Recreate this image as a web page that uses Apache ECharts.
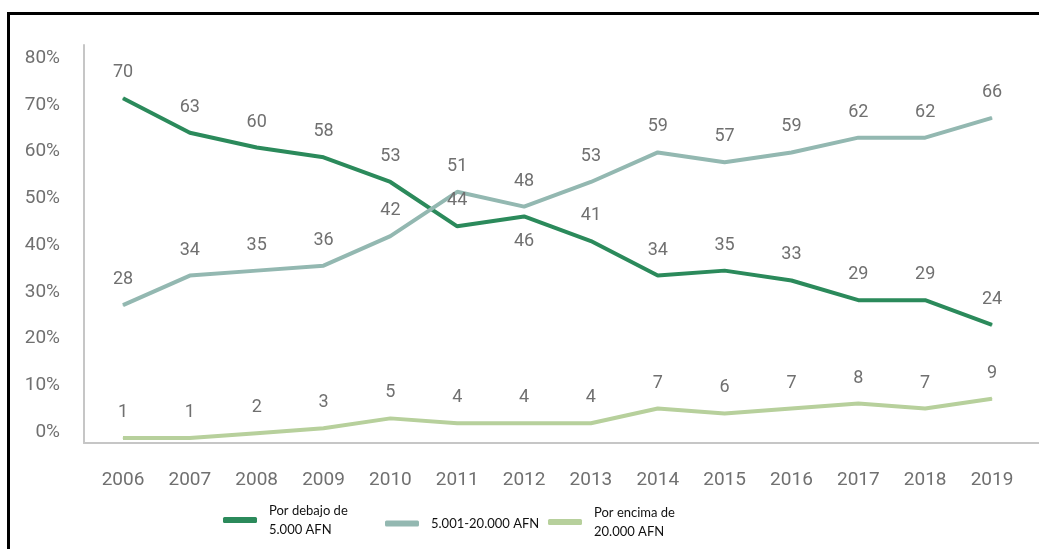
<!DOCTYPE html>
<html>
<head>
<meta charset="utf-8">
<title>AFN</title>
<script src="https://cdn.jsdelivr.net/npm/echarts@6/dist/echarts.min.js"></script>
<style>
  html, body { margin: 0; padding: 0; background: #fff; }
  #wrap { position: absolute; left: 0; top: 0; width: 1039px; height: 549px; }
  #frame { position: absolute; left: 7px; top: 12px; width: 1040px; height: 545px;
           border-left: 3px solid #000; border-top: 3px solid #000; }
  #chart { position: absolute; left: 0; top: 0; width: 1039px; height: 549px; }
</style>
</head>
<body>
<div id="wrap">
  <div id="frame"></div>
  <div id="chart"></div>
</div>
<script>
// categorias y valores
var years = ["2006", "2007", "2008", "2009", "2010", "2011", "2012", "2013", "2014", "2015", "2016", "2017", "2018", "2019"];
var bajo = [70, 63, 60, 58, 53, 44, 46, 41, 34, 35, 33, 29, 29, 24];
var medio = [28, 34, 35, 36, 42, 51, 48, 53, 59, 57, 59, 62, 62, 66];
var alto = [1, 1, 2, 3, 5, 4, 4, 4, 7, 6, 7, 8, 7, 9];
var yTicks = [0, 10, 20, 30, 40, 50, 60, 70, 80];
var names = ["Por debajo de\n5.000 AFN", "5.001-20.000 AFN", "Por encima de\n20.000 AFN"];

var bajoLabelBelow = ["2012"]; // etiquetas que van debajo del punto

var numFont = "Roboto, 'DejaVu Sans', sans-serif";
var colors = ["#2b8a5b", "#93b8b1", "#b7d09c"];

function withLabels(values, below) {
  return values.map(function (v, i) {
    if (below && below.indexOf(years[i]) >= 0) {
      return { value: v, label: { position: "bottom", distance: 16 } };
    }
    return v;
  });
}

function legendAt(idx, left, top) {
  return {
    data: [names[idx]],
    left: left,
    top: top,
    padding: 0,
    icon: "roundRect",
    itemWidth: 34,
    itemHeight: 6,
    selectedMode: false,
    textStyle: {
      fontFamily: "Lato, 'Open Sans', sans-serif",
      fontSize: 13,
      color: "#111",
      lineHeight: 19,
      padding: [0, 0, 0, 7]
    }
  };
}

function lineSeries(idx, values) {
  return {
    name: names[idx],
    type: "line",
    xAxisIndex: 0,
    yAxisIndex: 0,
    data: values,
    symbol: "circle",
    symbolSize: 1,
    itemStyle: { color: colors[idx] },
    lineStyle: { width: 4, color: colors[idx] },
    label: {
      show: true,
      position: "top",
      distance: 16,
      fontFamily: numFont,
      fontSize: 18,
      color: "#707070"
    }
  };
}

var chart = echarts.init(document.getElementById("chart"), null, { renderer: "canvas" });

chart.setOption({
  animation: false,
  color: colors,
  legend: [
    legendAt(0, 223, 501),
    legendAt(1, 385, 514),
    legendAt(2, 548, 503)
  ],
  grid: [
    // lineas
    { left: 123, right: 47, top: 49, bottom: 106 },
    // marco de ejes
    { left: 84, right: 0, top: 45, bottom: 106 },
    // etiquetas del eje y
    { left: 84, right: 0, top: 58, bottom: 117 }
  ],
  xAxis: [
    {
      gridIndex: 0,
      type: "category",
      data: years,
      boundaryGap: false,
      axisLine: { show: false },
      axisTick: { show: false },
      axisLabel: {
        margin: 28,
        fontFamily: numFont,
        fontSize: 19,
        color: "#707070"
      }
    },
    {
      gridIndex: 1,
      type: "value",
      min: 0,
      max: 1,
      axisLine: { show: true, lineStyle: { color: "#c6c6c6", width: 2 } },
      axisTick: { show: false },
      axisLabel: { show: false },
      splitLine: { show: false }
    },
    {
      gridIndex: 2,
      type: "value",
      min: 0,
      max: 1,
      show: false
    }
  ],
  yAxis: [
    {
      gridIndex: 0,
      type: "value",
      min: 0,
      max: 80,
      show: false
    },
    {
      gridIndex: 1,
      type: "value",
      min: 0,
      max: 1,
      axisLine: { show: true, lineStyle: { color: "#c6c6c6", width: 2 } },
      axisTick: { show: false },
      axisLabel: { show: false },
      splitLine: { show: false }
    },
    {
      gridIndex: 2,
      type: "value",
      min: yTicks[0],
      max: yTicks[yTicks.length - 1],
      interval: 10,
      axisLine: { show: false },
      axisTick: { show: false },
      splitLine: { show: false },
      axisLabel: {
        margin: 24,
        fontFamily: numFont,
        fontSize: 19,
        color: "#707070",
        formatter: "{value}%"
      }
    }
  ],
  series: [
    lineSeries(0, withLabels(bajo, bajoLabelBelow)),
    lineSeries(1, medio),
    lineSeries(2, alto)
  ]
});
</script>
</body>
</html>
